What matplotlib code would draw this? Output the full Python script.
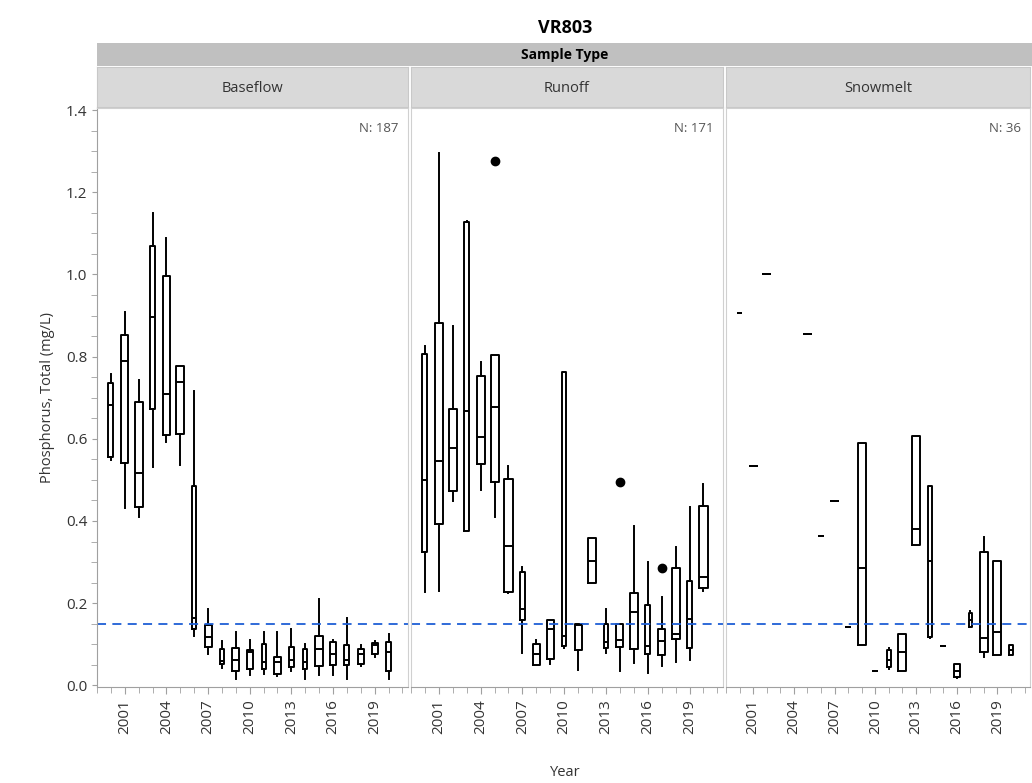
import numpy as np
import matplotlib
matplotlib.use("Agg")
import matplotlib.pyplot as plt
from matplotlib.ticker import MultipleLocator

plt.rcParams['font.family'] = ['Open Sans', 'DejaVu Sans']

# data (box stats per year)
years = list(range(2000, 2021))
panels = ["Baseflow", "Runoff", "Snowmelt"]
n_counts = [187, 171, 36]

# Baseflow: whislo, q1, med, q3, whishi
base_years = years
base_lo = [0.549, 0.432, 0.410, 0.532, 0.592, 0.536, 0.120, 0.077, 0.043, 0.016, 0.024, 0.028, 0.022, 0.036, 0.016, 0.024, 0.024, 0.016, 0.046, 0.069, 0.016]
base_q1 = [0.555, 0.540, 0.434, 0.672, 0.610, 0.611, 0.136, 0.093, 0.051, 0.036, 0.040, 0.040, 0.027, 0.045, 0.040, 0.046, 0.049, 0.049, 0.053, 0.077, 0.036]
base_med = [0.682, 0.789, 0.516, 0.896, 0.708, 0.738, 0.165, 0.117, 0.059, 0.061, 0.081, 0.057, 0.058, 0.062, 0.057, 0.089, 0.077, 0.061, 0.077, 0.097, 0.081]
base_q3 = [0.737, 0.852, 0.689, 1.069, 0.995, 0.778, 0.484, 0.146, 0.089, 0.092, 0.085, 0.101, 0.070, 0.093, 0.089, 0.120, 0.105, 0.097, 0.089, 0.103, 0.105]
base_hi = [0.757, 0.909, 0.742, 1.149, 1.088, 0.778, 0.717, 0.187, 0.108, 0.130, 0.111, 0.130, 0.130, 0.138, 0.101, 0.209, 0.111, 0.164, 0.097, 0.109, 0.126]
base_out = {}

# Runoff
run_years = years
run_lo = [0.227, 0.230, 0.449, 0.376, 0.475, 0.410, 0.224, 0.079, 0.049, 0.053, 0.092, 0.038, 0.250, 0.079, 0.036, 0.054, 0.030, 0.046, 0.057, 0.061, 0.230]
run_q1 = [0.324, 0.393, 0.473, 0.376, 0.538, 0.494, 0.228, 0.158, 0.049, 0.065, 0.095, 0.087, 0.250, 0.092, 0.093, 0.089, 0.077, 0.074, 0.113, 0.092, 0.237]
run_med = [0.499, 0.546, 0.577, 0.668, 0.604, 0.677, 0.338, 0.185, 0.077, 0.136, 0.120, 0.146, 0.302, 0.105, 0.110, 0.179, 0.095, 0.109, 0.124, 0.162, 0.263]
run_q3 = [0.807, 0.881, 0.672, 1.128, 0.754, 0.803, 0.503, 0.276, 0.101, 0.158, 0.762, 0.149, 0.358, 0.150, 0.150, 0.224, 0.195, 0.136, 0.285, 0.253, 0.436]
run_hi = [0.826, 1.296, 0.874, 1.130, 0.786, 0.803, 0.534, 0.289, 0.111, 0.160, 0.763, 0.150, 0.358, 0.187, 0.150, 0.387, 0.300, 0.215, 0.337, 0.435, 0.490]
run_out = {2005: [1.275], 2014: [0.495], 2017: [0.286]}

# Snowmelt (years with samples only)
snow_years = [2000, 2001, 2002, 2005, 2006, 2007, 2008, 2009, 2010, 2011, 2012, 2013, 2014, 2015, 2016, 2017, 2018, 2019, 2020]
snow_lo = [0.907, 0.533, 1.000, 0.855, 0.364, 0.449, 0.142, 0.098, 0.036, 0.040, 0.036, 0.341, 0.115, 0.096, 0.018, 0.142, 0.070, 0.073, 0.073]
snow_q1 = [0.907, 0.533, 1.000, 0.855, 0.364, 0.449, 0.142, 0.098, 0.036, 0.045, 0.036, 0.341, 0.118, 0.096, 0.020, 0.142, 0.082, 0.073, 0.075]
snow_med = [0.907, 0.533, 1.000, 0.855, 0.364, 0.449, 0.142, 0.285, 0.036, 0.062, 0.081, 0.380, 0.302, 0.096, 0.036, 0.158, 0.115, 0.130, 0.085]
snow_q3 = [0.907, 0.533, 1.000, 0.855, 0.364, 0.449, 0.142, 0.590, 0.036, 0.085, 0.124, 0.607, 0.486, 0.096, 0.052, 0.176, 0.324, 0.302, 0.097]
snow_hi = [0.907, 0.533, 1.000, 0.855, 0.364, 0.449, 0.142, 0.590, 0.036, 0.090, 0.124, 0.607, 0.486, 0.096, 0.052, 0.180, 0.360, 0.302, 0.099]
snow_out = {}

threshold = 0.15
tick_years = [2001, 2004, 2007, 2010, 2013, 2016, 2019]

# box widths in years (JMP scales these by group size)
base_w = [0.36, 0.5, 0.58, 0.36, 0.52, 0.58, 0.3, 0.5, 0.3, 0.5, 0.42, 0.3, 0.5, 0.36, 0.3, 0.58, 0.5, 0.36, 0.45, 0.45, 0.3]
run_w = [0.36, 0.58, 0.58, 0.36, 0.58, 0.58, 0.58, 0.36, 0.5, 0.5, 0.3, 0.5, 0.58, 0.3, 0.5, 0.58, 0.36, 0.5, 0.58, 0.36, 0.58]
snow_w = [0.2, 0.5, 0.5, 0.5, 0.25, 0.5, 0.25, 0.58, 0.3, 0.3, 0.58, 0.58, 0.3, 0.3, 0.45, 0.22, 0.58, 0.58, 0.25]

datasets = [
    (base_years, base_lo, base_q1, base_med, base_q3, base_hi, base_out, base_w),
    (run_years, run_lo, run_q1, run_med, run_q3, run_hi, run_out, run_w),
    (snow_years, snow_lo, snow_q1, snow_med, snow_q3, snow_hi, snow_out, snow_w),
]

W, H = 1032, 783
fig = plt.figure(figsize=(W / 100, H / 100), dpi=100)

def fx(px):
    return px / W

def fy(py):
    return 1 - py / H

panel_px = [(97, 408), (411, 723), (726, 1030)]
top_px, bot_px = 108, 687
grey = "#a0a0a0"
txt = "#333333"

# title and strips
fig.text(fx(565), fy(28), "VR803", ha="center", va="center", fontsize=13, fontweight="bold")
strip = fig.add_axes([fx(97), fy(66), fx(1032 - 97), (66 - 43) / H])
strip.set_facecolor("#c0c0c0")
strip.set_xticks([]); strip.set_yticks([])
for s in strip.spines.values():
    s.set_visible(False)
strip.text(0.5, 0.5, "Sample Type", ha="center", va="center", fontsize=10, fontweight="bold",
           transform=strip.transAxes)

axes = []
for i, (name, (x0, x1)) in enumerate(zip(panels, panel_px)):
    sa = fig.add_axes([fx(x0), fy(107), fx(x1 - x0), (107 - 67) / H])
    sa.set_facecolor("#d9d9d9")
    sa.set_xticks([]); sa.set_yticks([])
    for s in sa.spines.values():
        s.set_color("#c8c8c8")
    sa.text(0.5, 0.45, name, ha="center", va="center", fontsize=10.5, color=txt, transform=sa.transAxes)

    ax = fig.add_axes([fx(x0), fy(bot_px), fx(x1 - x0), (bot_px - top_px) / H])
    axes.append(ax)
    yrs, lo, q1, med, q3, hi, outs, wd = datasets[i]
    stats = []
    for k, y in enumerate(yrs):
        stats.append(dict(med=med[k], q1=q1[k], q3=q3[k], whislo=lo[k], whishi=hi[k],
                          fliers=outs.get(y, [])))
    ax.bxp(stats, positions=yrs, widths=wd, showcaps=False, manage_ticks=False,
           boxprops=dict(color="black", linewidth=1.4),
           whiskerprops=dict(color="black", linewidth=1.4),
           medianprops=dict(color="black", linewidth=1.4),
           flierprops=dict(marker="o", markerfacecolor="black", markeredgecolor="black", markersize=6))
    ax.axhline(threshold, color="#1f5fd6", linestyle=(0, (5, 3.5)), linewidth=1.3)
    ax.set_xlim(1999.0, 2021.4)
    ax.set_ylim(-0.004, 1.405)
    ax.set_xticks(tick_years)
    ax.set_xticklabels([str(t) for t in tick_years], rotation=90, fontsize=11, color=txt)
    ax.xaxis.set_minor_locator(MultipleLocator(1))
    ax.tick_params(axis="x", which="both", direction="out", color=grey, length=5)
    ax.tick_params(axis="x", which="minor", length=4)
    ax.text(0.97, 0.975, "N: %d" % n_counts[i], transform=ax.transAxes, ha="right", va="top",
            fontsize=9.5, color="#555555")
    for s in ["top", "right", "left"]:
        ax.spines[s].set_color("#d0d0d0")
    ax.spines["bottom"].set_color(grey)
    if i == 0:
        ax.yaxis.set_major_locator(MultipleLocator(0.2))
        ax.yaxis.set_minor_locator(MultipleLocator(0.05))
        ax.yaxis.set_major_formatter(plt.FormatStrFormatter("%.1f"))
        ax.tick_params(axis="y", which="both", direction="out", color=grey, labelsize=11,
                       labelcolor=txt)
        ax.tick_params(axis="y", which="minor", length=4)
        ax.spines["left"].set_color(grey)
        ax.set_ylabel("Phosphorus, Total (mg/L)", fontsize=10.5, labelpad=8, color=txt)
    else:
        ax.set_yticks([])
        ax.yaxis.set_minor_locator(plt.NullLocator())

fig.text(fx(565), fy(772), "Year", ha="center", va="center", fontsize=10.5, color=txt)

fig.savefig("out.png", dpi=100)
